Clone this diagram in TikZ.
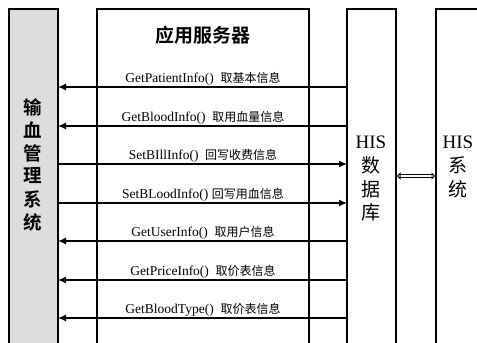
\documentclass[tikz,border=0pt]{standalone}
\usepackage{fontspec}
\setmainfont{Liberation Serif}
\newfontfamily\cjk{Noto Sans CJK SC}
\newfontfamily\cjkb{Noto Sans CJK SC Bold}
\usetikzlibrary{arrows.meta}
\begin{document}
\begin{tikzpicture}[x=1pt,y=-1pt,
  boxline/.style={line width=1.3pt},
  msg/.style={line width=1.2pt},
  tipL/.style={{Latex[length=8pt,width=7pt]}-},
  tipR/.style={-{Latex[length=8pt,width=7pt]}},
  lbl/.style={font=\fontsize{13.5}{14}\selectfont, inner sep=0pt, anchor=base},
  zh/.style={},
  vchar/.style={font=\fontsize{18.5}{19}\selectfont\cjkb, inner sep=0pt},
  hischar/.style={font=\fontsize{19}{19}\selectfont\cjk, inner sep=0pt}]
\useasboundingbox (0,0) rectangle (477,343);
% boxes
\fill[gray!27] (9,9) rectangle (58,350);
\draw[boxline] (9,350) -- (9,9) -- (58,9) -- (58,350);
\draw[boxline] (97,350) -- (97,9) -- (309,9) -- (309,350);
\draw[boxline] (347,350) -- (347,9) -- (396,9) -- (396,350);
\draw[boxline] (436,350) -- (436,9) -- (480,9);
\coordinate (L1) at (58,87);  \coordinate (R1) at (347,87);
\coordinate (L2) at (58,126); \coordinate (R2) at (347,126);
\coordinate (L3) at (58,164); \coordinate (R3) at (347,164);
\coordinate (L4) at (58,203); \coordinate (R4) at (347,203);
\coordinate (L5) at (58,241); \coordinate (R5) at (347,241);
\coordinate (L6) at (58,280); \coordinate (R6) at (347,280);
\coordinate (L7) at (58,318); \coordinate (R7) at (347,318);
\coordinate (DA) at (396,176); \coordinate (DB) at (436,176);
% title
\node[font=\fontsize{19}{19}\selectfont\cjkb, inner sep=0pt] (title) at (203,35) {应用服务器};
% left vertical text
\foreach \c [count=\i from 0] in {输,血,管,理,系,统}
  \node[vchar] (lv\i) at (33,107+23*\i) {\c};
% HIS database
\node[font=\fontsize{19}{19}\selectfont, inner sep=0pt] (his1) at (371,142) {HIS};
\node[hischar] (db0) at (371,165) {数};
\node[hischar] (db1) at (371,189) {据};
\node[hischar] (db2) at (371,212) {库};
% HIS system
\node[font=\fontsize{19}{19}\selectfont, inner sep=0pt] (his2) at (458,142) {HIS};
\node[hischar] (sy0) at (458,165) {系};
\node[hischar] (sy1) at (458,189) {统};
% messages
\draw[msg,tipL] (L1) -- (R1);
\draw[msg,tipL] (L2) -- (R2);
\draw[msg,tipR] (L3) -- (R3);
\draw[msg,tipR] (L4) -- (R4);
\draw[msg,tipL] (L5) -- (R5);
\draw[msg,tipL] (L6) -- (R6);
\draw[msg,tipL] (L7) -- (R7);
\newcommand\zhlbl[1]{{\cjk\fontsize{12}{12}\selectfont #1}}
\node[lbl] (m1) at (203,82.5) {GetPatientInfo()\ \ \zhlbl{取基本信息}};
\node[lbl] (m2) at (203,121.5) {GetBloodInfo()\ \ \zhlbl{取用血量信息}};
\node[lbl] (m3) at (203,159.5) {SetBIllInfo()\ \ \zhlbl{回写收费信息}};
\node[lbl] (m4) at (203,198.5) {SetBLoodInfo()\ \zhlbl{回写用血信息}};
\node[lbl] (m5) at (203,236.5) {GetUserInfo()\ \ \zhlbl{取用户信息}};
\node[lbl] (m6) at (203,275.5) {GetPriceInfo()\ \ \zhlbl{取价表信息}};
\node[lbl] (m7) at (203,313.5) {GetBloodType()\ \ \zhlbl{取价表信息}};
% double arrow
\draw[line width=1.3pt, double distance=1.6pt, {Latex[open,length=4pt,width=8pt]}-{Latex[open,length=4pt,width=8pt]}, shorten <=0.5pt, shorten >=0.5pt] (DA) -- (DB);
\end{tikzpicture}
\end{document}
